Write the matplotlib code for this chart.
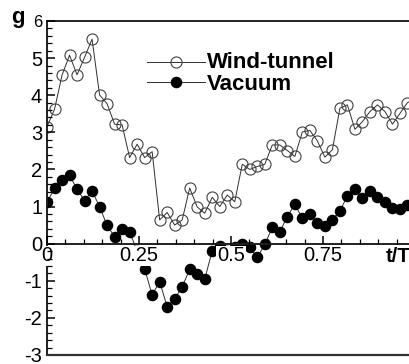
import matplotlib
matplotlib.use('Agg')
import matplotlib.pyplot as plt
from matplotlib.ticker import MultipleLocator, FixedLocator, FixedFormatter
import numpy as np

plt.rcParams['font.family'] = ['Liberation Sans', 'DejaVu Sans']

# t/T sampled at 50 equal steps over one period
n_pts = 50
t = np.arange(n_pts) / (n_pts - 1)

wind_tunnel = [3.15, 3.62, 4.54, 5.08, 4.55, 5.02, 5.51, 4.01, 3.77, 3.22,
               3.20, 2.32, 2.68, 2.32, 2.48, 0.64, 0.84, 0.50, 0.64, 1.50,
               0.99, 0.82, 1.25, 1.00, 1.31, 1.13, 2.14, 2.00, 2.08, 2.14,
               2.66, 2.66, 2.51, 2.35, 3.01, 3.05, 2.77, 2.33, 2.53, 3.65,
               3.74, 3.08, 3.29, 3.56, 3.74, 3.56, 3.22, 3.51, 3.80, 3.90]

vacuum = [1.12, 1.49, 1.72, 1.84, 1.47, 1.16, 1.42, 1.00, 0.49, 0.19,
          0.39, 0.32, -0.20, -0.68, -1.38, -1.02, -1.70, -1.49, -1.16, -0.69,
          -0.83, -0.96, -0.19, -0.05, -0.20, -0.10, -0.01, -0.10, -0.37, -0.02,
          0.44, 0.32, 0.73, 1.06, 0.68, 0.79, 0.55, 0.48, 0.64, 0.88,
          1.29, 1.47, 1.22, 1.43, 1.25, 1.11, 0.97, 0.94, 1.05, 1.10]

series_labels = ['Wind-tunnel', 'Vacuum']
x_major = [0, 0.25, 0.5, 0.75]
x_major_labels = ['0', '0.25', '0.5', '0.75']
y_major = [-3, -2, -1, 0, 1, 2, 3, 4, 5, 6]
y_major_labels = ['-3', '-2', '-1', '0', '1', '2', '3', '4', '5', '6']

W, H = 409, 364
fig = plt.figure(figsize=(W / 100, H / 100), dpi=100)
# axes runs past the right edge of the picture, like the original crop
ax = fig.add_axes([47 / W, 9 / H, 368 / W, 334 / H])
ax.set_xlim(0, 1)
ax.set_ylim(-3, 6)
ax.set_axisbelow(False)  # tick labels sit on top of the data, as in the original

line_c = '#303030'
ax.plot(t, wind_tunnel, '-', color=line_c, lw=0.7, marker='o', ms=8,
        mfc='none', mec='#404040', mew=0.8, zorder=2)
ax.plot(t, vacuum, '-', color=line_c, lw=0.7, marker='o', ms=7.3,
        mfc='black', mec='black', zorder=2)

# axes frame
for s in ['left', 'top', 'bottom']:
    ax.spines[s].set_linewidth(1.4)
    ax.spines[s].set_color('#202020')
ax.spines['right'].set_visible(False)
ax.spines['bottom'].set_position(('data', 0))
ax.plot([0, 1], [0, 0], transform=ax.transAxes, color='#303030', lw=1.6,
        clip_on=False, zorder=3)

ax.xaxis.set_major_locator(FixedLocator(x_major))
ax.xaxis.set_major_formatter(FixedFormatter(x_major_labels))
ax.xaxis.set_minor_locator(MultipleLocator(0.05))
ax.yaxis.set_major_locator(FixedLocator(y_major))
ax.yaxis.set_major_formatter(FixedFormatter(y_major_labels))
ax.yaxis.set_minor_locator(MultipleLocator(0.2))

ax.tick_params(axis='x', which='major', direction='in', length=6, width=1.1,
               pad=2, labelsize=14.5, bottom=True, top=False)
ax.tick_params(axis='x', which='minor', direction='in', length=3.6, width=0.9,
               bottom=True, top=False)
ax.tick_params(axis='y', which='major', direction='in', length=6, width=1.1,
               pad=3.5, labelsize=14.5, left=True, right=False)
ax.tick_params(axis='y', which='minor', direction='in', length=3.6, width=0.9,
               left=True, right=False)

for lab in ax.get_xticklabels():
    lab.set_bbox(dict(facecolor='white', edgecolor='none', pad=0.5))
ax.get_yticklabels()[-1].set_fontsize(12)

ax.annotate('t/T', xy=(0.954, 0), xytext=(0, -2.2), textcoords='offset points',
            ha='center', va='top', fontsize=14.5, fontweight='bold')
fig.text(18 / W, 1 - 17 / H, 'g', ha='center', va='center', fontsize=16,
         fontweight='bold')

# legend drawn by hand (line, centred marker, bold label)
leg_rows = [(0.877, 0.859), (0.817, 0.793)]
leg_styles = [dict(mfc='none', mec='#404040', mew=0.8, ms=8),
              dict(mfc='black', mec='black', ms=7.3)]
for (yl, yt), lab, sty in zip(leg_rows, series_labels, leg_styles):
    ax.plot([0.272, 0.429], [yl, yl], transform=ax.transAxes, color=line_c,
            lw=0.7, zorder=2)
    ax.plot([0.3505], [yl], transform=ax.transAxes, marker='o', ls='none',
            zorder=2, **sty)
    ax.text(0.434, yt, lab, transform=ax.transAxes, ha='left', va='baseline',
            fontsize=16, fontweight='bold')

fig.savefig('out.png', dpi=100, facecolor='white')
